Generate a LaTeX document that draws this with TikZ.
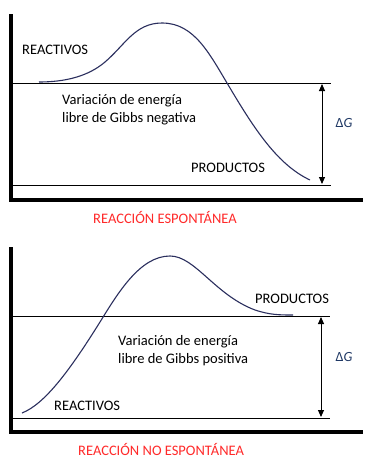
\documentclass[tikz,border=0pt]{standalone}
\usepackage{fontspec}
\setmainfont{Carlito}
\usetikzlibrary{arrows.meta}
\definecolor{curvecol}{HTML}{2B2F5E}
\definecolor{dgcol}{HTML}{1F3864}
\definecolor{titlered}{HTML}{FF2A2A}
\tikzset{
  axis/.style={line width=3.6pt},
  level/.style={line width=0.9pt},
  energy/.style={line width=1.1pt, color=curvecol},
  dgarrow/.style={line width=0.9pt, {Triangle[width=6pt,length=7pt]}-{Triangle[width=6pt,length=7pt]}},
  lbl/.style={anchor=base west, inner sep=0pt, font=\fontsize{14.5}{17}\selectfont},
  ttl/.style={lbl, text=titlered},
  dg/.style={inner sep=0pt, text=dgcol, font=\fontsize{14}{17}\selectfont}
}
\begin{document}
\begin{tikzpicture}[x=1pt,y=-1pt]
\useasboundingbox[fill=white] (0,0) rectangle (375,466);
% ---------- top diagram ----------
\coordinate (tA) at (11,14);
\coordinate (tO) at (11,200);
\coordinate (tE) at (363,200);
\draw[axis] (tA) -- (tO) -- (tE);
\coordinate (tu1) at (13,83);
\coordinate (tu2) at (331,83);
\coordinate (tl1) at (13,185);
\coordinate (tl2) at (331,185);
\draw[level] (tu1) -- (tu2);
\draw[level] (tl1) -- (tl2);
\coordinate (ta1) at (322,84);
\coordinate (ta2) at (322,184);
\draw[dgarrow] (ta1) -- (ta2);
\node[dg] (tdg) at (344,123) {Δ\textit{G}};
\draw[energy] (39,82) .. controls (65,82) and (88,76.5) .. (105,62)
  .. controls (125,45) and (135,23) .. (162,23)
  .. controls (195,23) and (210,55) .. (230,88)
  .. controls (255,130) and (278,165) .. (310,180);
\node[lbl] (treact) at (22,54) {REACTIVOS};
\node[lbl] (tvar1) at (62,104.5) {Variación de energía};
\node[lbl] (tvar2) at (62,122.7) {libre de Gibbs negativa};
\node[lbl] (tprod) at (191,172) {PRODUCTOS};
\node[ttl] (ttitle) at (93,223) {REACCIÓN ESPONTÁNEA};
% ---------- bottom diagram ----------
\coordinate (bA) at (11,247);
\coordinate (bO) at (11,432);
\coordinate (bE) at (363,432);
\draw[axis] (bA) -- (bO) -- (bE);
\coordinate (bu1) at (13,316);
\coordinate (bu2) at (330,316);
\coordinate (bl1) at (13,418);
\coordinate (bl2) at (330,418);
\draw[level] (bu1) -- (bu2);
\draw[level] (bl1) -- (bl2);
\coordinate (ba1) at (321,317);
\coordinate (ba2) at (321,417);
\draw[dgarrow] (ba1) -- (ba2);
\node[dg] (bdg) at (344,357) {Δ\textit{G}};
\draw[energy] (22,413) .. controls (45,404) and (70,370) .. (100,322)
  .. controls (118,293) and (140,256) .. (170,256)
  .. controls (195,256) and (215,295) .. (255,310)
  .. controls (270,315) and (280,315) .. (293,315);
\node[lbl] (bprod) at (255,303) {PRODUCTOS};
\node[lbl] (bvar1) at (118,345) {Variación de energía};
\node[lbl] (bvar2) at (118,363) {libre de Gibbs positiva};
\node[lbl] (breact) at (54,410.7) {REACTIVOS};
\node[ttl] (btitle) at (78,455) {REACCIÓN NO ESPONTÁNEA};
\end{tikzpicture}
\end{document}
